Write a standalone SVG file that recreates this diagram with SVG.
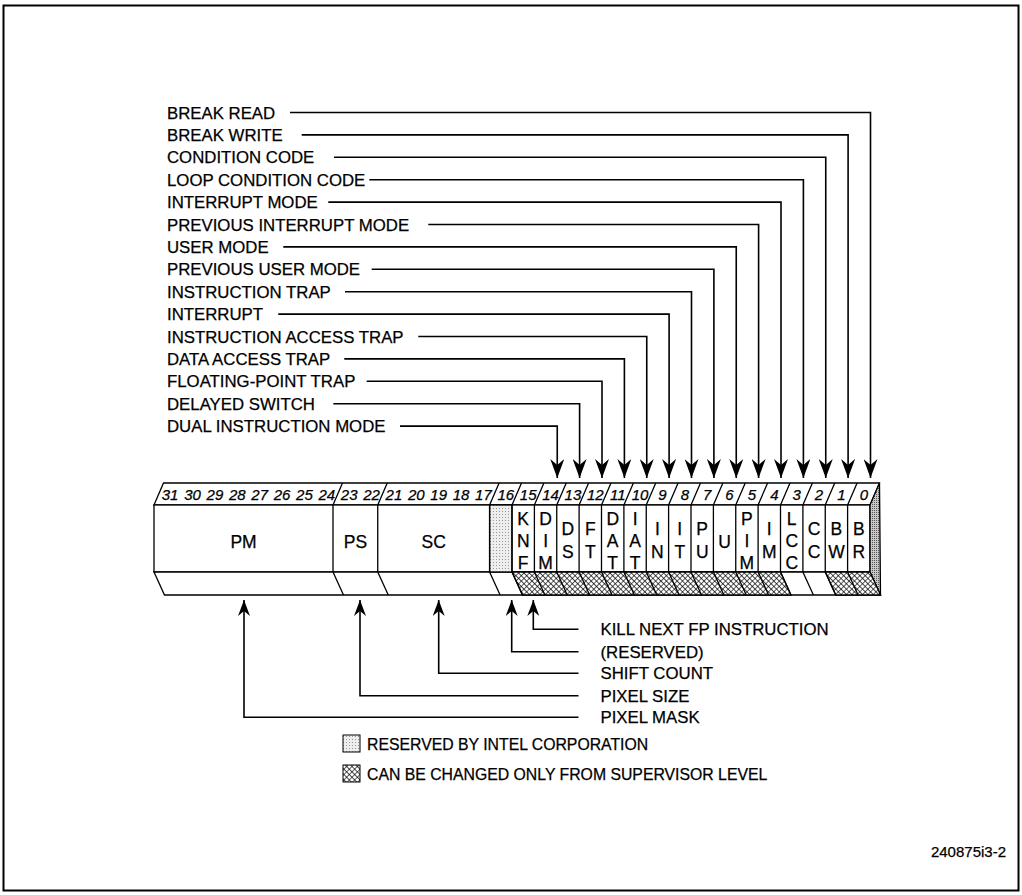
<svg xmlns="http://www.w3.org/2000/svg" width="1022" height="895" viewBox="0 0 1022 895">
<style>
text{font-family:"Liberation Sans",Arial,sans-serif;fill:#000;stroke:#000;stroke-width:0.25}
.lbl{font-size:16.8px}
.leg{font-size:15.8px}
.bit{font-size:17.5px;text-anchor:middle}
.fld{font-size:17.5px;text-anchor:middle}
.num{font-size:15px;font-style:italic;text-anchor:middle}
.ln{fill:none;stroke:#000;stroke-width:1.6}
.edge{stroke:#000;stroke-width:1.3}
.dv{fill:none;stroke:#000;stroke-width:1.3}
</style>
<defs>
<pattern id="hatch" width="3.8" height="3.8" patternUnits="userSpaceOnUse" patternTransform="rotate(45)">
<rect width="3.8" height="3.8" fill="#fff"/>
<path d="M0,0 H3.8 M0,0 V3.8" stroke="#000" stroke-width="1.25"/>
</pattern>
<pattern id="stip" width="3" height="3" patternUnits="userSpaceOnUse">
<rect width="3" height="3" fill="#eeeeee"/>
<rect x="1" y="1" width="1" height="1" fill="#999"/>
</pattern>
<pattern id="stipd" width="2" height="2" patternUnits="userSpaceOnUse">
<rect width="2" height="2" fill="#c8c8c8"/>
<rect x="0" y="0" width="1" height="1" fill="#555"/>
</pattern>
<marker id="arr" viewBox="0 0 19 14" refX="19" refY="7" markerWidth="19" markerHeight="14" markerUnits="userSpaceOnUse" orient="auto">
<path d="M0,0 L19,7 L0,14 L6,7 z" fill="#000"/>
</marker>
<marker id="arrs" viewBox="0 0 16 12" refX="16" refY="6" markerWidth="16" markerHeight="12" markerUnits="userSpaceOnUse" orient="auto">
<path d="M0,0 L16,6 L0,12 L5,6 z" fill="#000"/>
</marker>
</defs>
<rect x="3.5" y="5.5" width="1015" height="885" fill="#fff" stroke="#000" stroke-width="2"/>

<g id="register">
<polygon points="154,505 163.5,483 879.5,483 870,505" fill="#fff" class="edge"/>
<rect x="154" y="505" width="716" height="67" fill="#fff" class="edge"/>
<polygon points="154,572 164.5,595 880.5,595 870,572" fill="#fff" class="edge"/>
<polygon points="870,505 879.5,483 880.5,595 870,572" fill="url(#stipd)" class="edge"/>
<rect x="489.6" y="505" width="22.4" height="67" fill="url(#stip)" class="edge"/>
<polygon points="512,572 780.5,572 791,595 522.5,595" fill="url(#hatch)" class="edge"/>
<polygon points="825.25,572 870,572 880.5,595 835.75,595" fill="url(#hatch)" class="edge"/>
<g class="dv">
<path d="M333,505 V572 M377.75,505 V572 M489.6,505 V572 M512,505 V572 M534.4,505 V572 M556.75,505 V572 M579.1,505 V572 M601.5,505 V572 M623.9,505 V572 M646.25,505 V572 M668.6,505 V572 M691,505 V572 M713.4,505 V572 M735.75,505 V572 M758.1,505 V572 M780.5,505 V572 M802.9,505 V572 M825.25,505 V572 M847.6,505 V572"/>
<path d="M333,505 l9.5,-22 M377.75,505 l9.5,-22 M489.6,505 l9.5,-22 M512,505 l9.5,-22 M534.4,505 l9.5,-22 M556.75,505 l9.5,-22 M579.1,505 l9.5,-22 M601.5,505 l9.5,-22 M623.9,505 l9.5,-22 M646.25,505 l9.5,-22 M668.6,505 l9.5,-22 M691,505 l9.5,-22 M713.4,505 l9.5,-22 M735.75,505 l9.5,-22 M758.1,505 l9.5,-22 M780.5,505 l9.5,-22 M802.9,505 l9.5,-22 M825.25,505 l9.5,-22 M847.6,505 l9.5,-22"/>
<path d="M333,572 l10.5,23 M377.75,572 l10.5,23 M489.6,572 l10.5,23 M512,572 l10.5,23 M534.4,572 l10.5,23 M556.75,572 l10.5,23 M579.1,572 l10.5,23 M601.5,572 l10.5,23 M623.9,572 l10.5,23 M646.25,572 l10.5,23 M668.6,572 l10.5,23 M691,572 l10.5,23 M713.4,572 l10.5,23 M735.75,572 l10.5,23 M758.1,572 l10.5,23 M780.5,572 l10.5,23 M802.9,572 l10.5,23 M825.25,572 l10.5,23 M847.6,572 l10.5,23"/>
</g>
<g class="num">
<text x="170" y="500">31</text><text x="192.5" y="500">30</text><text x="214.9" y="500">29</text><text x="237.3" y="500">28</text>
<text x="259.7" y="500">27</text><text x="282" y="500">26</text><text x="304.4" y="500">25</text><text x="326.8" y="500">24</text>
<text x="349.2" y="500">23</text><text x="371.5" y="500">22</text><text x="393.9" y="500">21</text><text x="416.3" y="500">20</text>
<text x="438.7" y="500">19</text><text x="461" y="500">18</text><text x="483.4" y="500">17</text><text x="505.8" y="500">16</text>
<text x="528.2" y="500">15</text><text x="550.5" y="500">14</text><text x="572.9" y="500">13</text><text x="595.3" y="500">12</text>
<text x="617.7" y="500">11</text><text x="640" y="500">10</text><text x="662.4" y="500">9</text><text x="684.8" y="500">8</text>
<text x="707.2" y="500">7</text><text x="729.5" y="500">6</text><text x="751.9" y="500">5</text><text x="774.3" y="500">4</text>
<text x="796.7" y="500">3</text><text x="819" y="500">2</text><text x="841.4" y="500">1</text><text x="863.8" y="500">0</text>
</g>
<g class="fld">
<text x="243.5" y="547.5">PM</text><text x="355.4" y="547.5">PS</text><text x="433.7" y="547.5">SC</text>
</g>
<g class="bit">
<text x="523.2" y="524.5">K</text><text x="523.2" y="547">N</text><text x="523.2" y="569">F</text>
<text x="545.6" y="524.5">D</text><text x="545.6" y="547">I</text><text x="545.6" y="569">M</text>
<text x="567.9" y="535.2">D</text><text x="567.9" y="557.8">S</text>
<text x="590.3" y="535.2">F</text><text x="590.3" y="557.8">T</text>
<text x="612.7" y="524.5">D</text><text x="612.7" y="547">A</text><text x="612.7" y="569">T</text>
<text x="635.1" y="524.5">I</text><text x="635.1" y="547">A</text><text x="635.1" y="569">T</text>
<text x="657.4" y="535.2">I</text><text x="657.4" y="557.8">N</text>
<text x="679.8" y="535.2">I</text><text x="679.8" y="557.8">T</text>
<text x="702.2" y="535.2">P</text><text x="702.2" y="557.8">U</text>
<text x="724.6" y="547.5">U</text>
<text x="746.9" y="524.5">P</text><text x="746.9" y="547">I</text><text x="746.9" y="569">M</text>
<text x="769.3" y="535.2">I</text><text x="769.3" y="557.8">M</text>
<text x="791.7" y="524.5">L</text><text x="791.7" y="547">C</text><text x="791.7" y="569">C</text>
<text x="814.1" y="535.2">C</text><text x="814.1" y="557.8">C</text>
<text x="836.4" y="535.2">B</text><text x="836.4" y="557.8">W</text>
<text x="858.8" y="535.2">B</text><text x="858.8" y="557.8">R</text>
</g>
</g>

<g id="top-labels" class="lbl">
<text x="167" y="118.5">BREAK READ</text>
<text x="167" y="140.9">BREAK WRITE</text>
<text x="167" y="163.3">CONDITION CODE</text>
<text x="167" y="185.7">LOOP CONDITION CODE</text>
<text x="167" y="208.1">INTERRUPT MODE</text>
<text x="167" y="230.5">PREVIOUS INTERRUPT MODE</text>
<text x="167" y="252.9">USER MODE</text>
<text x="167" y="275.3">PREVIOUS USER MODE</text>
<text x="167" y="297.7">INSTRUCTION TRAP</text>
<text x="167" y="320.1">INTERRUPT</text>
<text x="167" y="342.5">INSTRUCTION ACCESS TRAP</text>
<text x="167" y="364.9">DATA ACCESS TRAP</text>
<text x="167" y="387.3">FLOATING-POINT TRAP</text>
<text x="167" y="409.7">DELAYED SWITCH</text>
<text x="167" y="432.1">DUAL INSTRUCTION MODE</text>
</g>

<g id="bottom-labels" class="lbl">
<text x="600.5" y="635.3">KILL NEXT FP INSTRUCTION</text>
<text x="600.5" y="657.7">(RESERVED)</text>
<text x="600.5" y="679.3">SHIFT COUNT</text>
<text x="600.5" y="701.7">PIXEL SIZE</text>
<text x="600.5" y="723.3">PIXEL MASK</text>
</g>

<g id="connectors" class="ln">
<path d="M290,112.5 H870.5 V478" marker-end="url(#arr)"/>
<path d="M301.7,134.9 H848.1 V478" marker-end="url(#arr)"/>
<path d="M334,157.3 H825.75 V478" marker-end="url(#arr)"/>
<path d="M369.3,179.7 H803.4 V478" marker-end="url(#arr)"/>
<path d="M328.3,202.1 H781 V478" marker-end="url(#arr)"/>
<path d="M428.3,224.5 H758.6 V478" marker-end="url(#arr)"/>
<path d="M283.3,246.9 H736.25 V478" marker-end="url(#arr)"/>
<path d="M371.7,269.3 H713.9 V478" marker-end="url(#arr)"/>
<path d="M345,291.7 H691.5 V478" marker-end="url(#arr)"/>
<path d="M278.3,314.1 H669.1 V478" marker-end="url(#arr)"/>
<path d="M418.3,336.5 H646.75 V478" marker-end="url(#arr)"/>
<path d="M344.3,358.9 H624.4 V478" marker-end="url(#arr)"/>
<path d="M366.7,381.3 H602 V478" marker-end="url(#arr)"/>
<path d="M333.3,403.7 H579.6 V478" marker-end="url(#arr)"/>
<path d="M400,426.1 H557.25 V478" marker-end="url(#arr)"/>
<path d="M578.5,629.3 H533.3 V600" marker-end="url(#arrs)"/>
<path d="M578.5,651.7 H511.7 V600" marker-end="url(#arrs)"/>
<path d="M578.5,673.3 H438.7 V600" marker-end="url(#arrs)"/>
<path d="M578.5,695.7 H360 V600" marker-end="url(#arrs)"/>
<path d="M578.5,717.3 H244 V600" marker-end="url(#arrs)"/>
</g>

<g id="legend">
<rect x="343" y="735" width="17" height="17" fill="url(#stip)" stroke="#000" stroke-width="1"/>
<text class="leg" x="367" y="749.5">RESERVED BY INTEL CORPORATION</text>
<rect x="343" y="765" width="17" height="17" fill="url(#hatch)" stroke="#000" stroke-width="1"/>
<text class="leg" x="367" y="779.5">CAN BE CHANGED ONLY FROM SUPERVISOR LEVEL</text>
</g>
<text x="1006" y="857" style="font-size:15px;text-anchor:end">240875i3-2</text>
</svg>
